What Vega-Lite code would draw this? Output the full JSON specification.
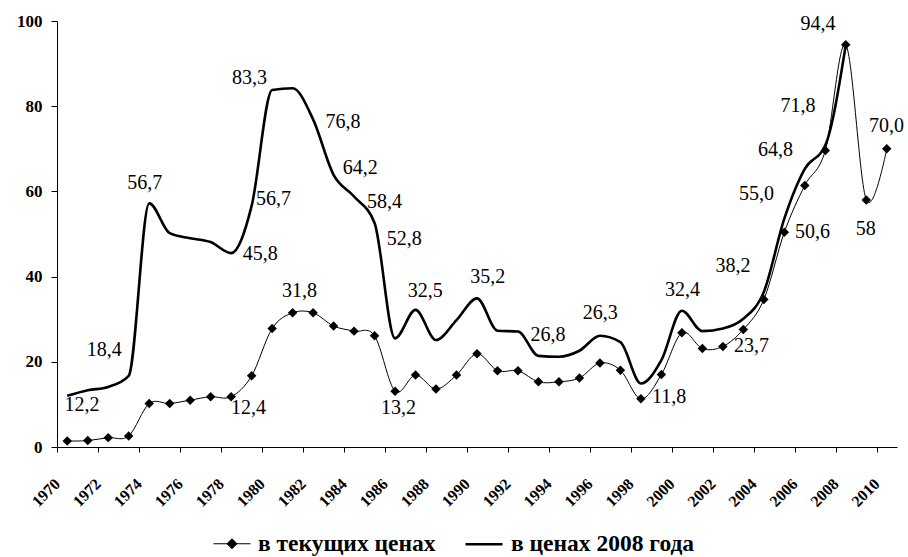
{
  "$schema": "https://vega.github.io/schema/vega-lite/v6.json",
  "width": 840,
  "height": 426,
  "autosize": "none",
  "padding": {"left": 57, "top": 21, "right": 11, "bottom": 110},
  "background": "white",
  "config": {"view": {"stroke": null}, "font": "Liberation Serif"},
  "datasets": {
    "prices": [
      {"year": 1970, "series": "в текущих ценах", "value": 1.4},
      {"year": 1971, "series": "в текущих ценах", "value": 1.5},
      {"year": 1972, "series": "в текущих ценах", "value": 2.2},
      {"year": 1973, "series": "в текущих ценах", "value": 2.6},
      {"year": 1974, "series": "в текущих ценах", "value": 10.2},
      {"year": 1975, "series": "в текущих ценах", "value": 10.2},
      {"year": 1976, "series": "в текущих ценах", "value": 11.0},
      {"year": 1977, "series": "в текущих ценах", "value": 11.8},
      {"year": 1978, "series": "в текущих ценах", "value": 11.8},
      {"year": 1979, "series": "в текущих ценах", "value": 16.7},
      {"year": 1980, "series": "в текущих ценах", "value": 27.8},
      {"year": 1981, "series": "в текущих ценах", "value": 31.5},
      {"year": 1982, "series": "в текущих ценах", "value": 31.5},
      {"year": 1983, "series": "в текущих ценах", "value": 28.4},
      {"year": 1984, "series": "в текущих ценах", "value": 27.2},
      {"year": 1985, "series": "в текущих ценах", "value": 26.1},
      {"year": 1986, "series": "в текущих ценах", "value": 13.1},
      {"year": 1987, "series": "в текущих ценах", "value": 16.9},
      {"year": 1988, "series": "в текущих ценах", "value": 13.6},
      {"year": 1989, "series": "в текущих ценах", "value": 16.9},
      {"year": 1990, "series": "в текущих ценах", "value": 21.9},
      {"year": 1991, "series": "в текущих ценах", "value": 17.9},
      {"year": 1992, "series": "в текущих ценах", "value": 17.9},
      {"year": 1993, "series": "в текущих ценах", "value": 15.3},
      {"year": 1994, "series": "в текущих ценах", "value": 15.3},
      {"year": 1995, "series": "в текущих ценах", "value": 16.2},
      {"year": 1996, "series": "в текущих ценах", "value": 19.7},
      {"year": 1997, "series": "в текущих ценах", "value": 18.0},
      {"year": 1998, "series": "в текущих ценах", "value": 11.3},
      {"year": 1999, "series": "в текущих ценах", "value": 17.0},
      {"year": 2000, "series": "в текущих ценах", "value": 26.8},
      {"year": 2001, "series": "в текущих ценах", "value": 23.1},
      {"year": 2002, "series": "в текущих ценах", "value": 23.6},
      {"year": 2003, "series": "в текущих ценах", "value": 27.6},
      {"year": 2004, "series": "в текущих ценах", "value": 34.6},
      {"year": 2005, "series": "в текущих ценах", "value": 50.4},
      {"year": 2006, "series": "в текущих ценах", "value": 61.4},
      {"year": 2007, "series": "в текущих ценах", "value": 69.6},
      {"year": 2008, "series": "в текущих ценах", "value": 94.4},
      {"year": 2009, "series": "в текущих ценах", "value": 58.0},
      {"year": 2010, "series": "в текущих ценах", "value": 70.0},
      {"year": 1970, "series": "в ценах 2008 года", "value": 12.0},
      {"year": 1971, "series": "в ценах 2008 года", "value": 13.3},
      {"year": 1972, "series": "в ценах 2008 года", "value": 14.1},
      {"year": 1973, "series": "в ценах 2008 года", "value": 16.7},
      {"year": 1974, "series": "в ценах 2008 года", "value": 57.2},
      {"year": 1975, "series": "в ценах 2008 года", "value": 50.2},
      {"year": 1976, "series": "в ценах 2008 года", "value": 49.0},
      {"year": 1977, "series": "в ценах 2008 года", "value": 48.1},
      {"year": 1978, "series": "в ценах 2008 года", "value": 45.5},
      {"year": 1979, "series": "в ценах 2008 года", "value": 56.6},
      {"year": 1980, "series": "в ценах 2008 года", "value": 83.8},
      {"year": 1981, "series": "в ценах 2008 года", "value": 84.2},
      {"year": 1982, "series": "в ценах 2008 года", "value": 76.9},
      {"year": 1983, "series": "в ценах 2008 года", "value": 63.9},
      {"year": 1984, "series": "в ценах 2008 года", "value": 58.8},
      {"year": 1985, "series": "в ценах 2008 года", "value": 52.6},
      {"year": 1986, "series": "в ценах 2008 года", "value": 25.5},
      {"year": 1987, "series": "в ценах 2008 года", "value": 32.2},
      {"year": 1988, "series": "в ценах 2008 года", "value": 25.1},
      {"year": 1989, "series": "в ценах 2008 года", "value": 29.8},
      {"year": 1990, "series": "в ценах 2008 года", "value": 34.9},
      {"year": 1991, "series": "в ценах 2008 года", "value": 27.3},
      {"year": 1992, "series": "в ценах 2008 года", "value": 27.1},
      {"year": 1993, "series": "в ценах 2008 года", "value": 21.4},
      {"year": 1994, "series": "в ценах 2008 года", "value": 21.2},
      {"year": 1995, "series": "в ценах 2008 года", "value": 22.6},
      {"year": 1996, "series": "в ценах 2008 года", "value": 26.1},
      {"year": 1997, "series": "в ценах 2008 года", "value": 24.6},
      {"year": 1998, "series": "в ценах 2008 года", "value": 14.9},
      {"year": 1999, "series": "в ценах 2008 года", "value": 20.4},
      {"year": 2000, "series": "в ценах 2008 года", "value": 32.0},
      {"year": 2001, "series": "в ценах 2008 года", "value": 27.2},
      {"year": 2002, "series": "в ценах 2008 года", "value": 27.8},
      {"year": 2003, "series": "в ценах 2008 года", "value": 30.1},
      {"year": 2004, "series": "в ценах 2008 года", "value": 36.4},
      {"year": 2005, "series": "в ценах 2008 года", "value": 53.6},
      {"year": 2006, "series": "в ценах 2008 года", "value": 65.3},
      {"year": 2007, "series": "в ценах 2008 года", "value": 70.8},
      {"year": 2008, "series": "в ценах 2008 года", "value": 94.4}
    ],
    "labels": [
      {"year": 1970.72, "value": 9.96, "label": "12,2"},
      {"year": 1971.81, "value": 22.7, "label": "18,4"},
      {"year": 1973.78, "value": 62.0, "label": "56,7"},
      {"year": 1978.90, "value": 86.7, "label": "83,3"},
      {"year": 1983.46, "value": 76.2, "label": "76,8"},
      {"year": 1984.30, "value": 65.4, "label": "64,2"},
      {"year": 1980.07, "value": 58.3, "label": "56,7"},
      {"year": 1985.49, "value": 57.6, "label": "58,4"},
      {"year": 1979.42, "value": 45.4, "label": "45,8"},
      {"year": 1986.45, "value": 48.9, "label": "52,8"},
      {"year": 1981.34, "value": 36.6, "label": "31,8"},
      {"year": 1987.47, "value": 36.6, "label": "32,5"},
      {"year": 1978.85, "value": 9.25, "label": "12,4"},
      {"year": 1986.17, "value": 9.25, "label": "13,2"},
      {"year": 1990.52, "value": 40.0, "label": "35,2"},
      {"year": 1993.47, "value": 26.3, "label": "26,8"},
      {"year": 1996.02, "value": 31.4, "label": "26,3"},
      {"year": 2000.03, "value": 36.95, "label": "32,4"},
      {"year": 1999.38, "value": 11.8, "label": "11,8"},
      {"year": 2002.49, "value": 42.6, "label": "38,2"},
      {"year": 2003.40, "value": 23.8, "label": "23,7"},
      {"year": 2003.64, "value": 59.5, "label": "55,0"},
      {"year": 2006.38, "value": 50.5, "label": "50,6"},
      {"year": 2004.57, "value": 69.8, "label": "64,8"},
      {"year": 2005.67, "value": 80.0, "label": "71,8"},
      {"year": 2006.64, "value": 99.3, "label": "94,4"},
      {"year": 2008.97, "value": 51.1, "label": "58"},
      {"year": 2009.99, "value": 75.3, "label": "70,0"}
    ]
  },
  "layer": [
    {
      "data": {"name": "prices"},
      "transform": [{"filter": "datum.series === 'в ценах 2008 года'"}],
      "mark": {"type": "line", "interpolate": "monotone", "color": "black"},
      "encoding": {
        "x": {
          "field": "year",
          "type": "quantitative",
          "scale": {"domain": [1969.5, 2010.5], "nice": false, "zero": false},
          "axis": {
            "values": [1969.5, 1970.5, 1971.5, 1972.5, 1973.5, 1974.5, 1975.5, 1976.5, 1977.5, 1978.5, 1979.5, 1980.5, 1981.5, 1982.5, 1983.5, 1984.5, 1985.5, 1986.5, 1987.5, 1988.5, 1989.5, 1990.5, 1991.5, 1992.5, 1993.5, 1994.5, 1995.5, 1996.5, 1997.5, 1998.5, 1999.5, 2000.5, 2001.5, 2002.5, 2003.5, 2004.5, 2005.5, 2006.5, 2007.5, 2008.5, 2009.5, 2010.5],
            "labelExpr": "(datum.value + 0.5) % 2 === 0 ? format(datum.value + 0.5, 'd') : ''",
            "labelAngle": -45,
            "labelAlign": "right",
            "labelBaseline": "middle",
            "labelPadding": 29,
            "labelFont": "Liberation Serif",
            "labelFontWeight": "bold",
            "labelFontSize": 16,
            "labelColor": "black",
            "labelOverlap": false,
            "labelFlush": false,
            "labelBound": false,
            "tickSize": 5,
            "tickColor": "black",
            "domainColor": "black",
            "grid": false,
            "title": null
          }
        },
        "y": {
          "field": "value",
          "type": "quantitative",
          "scale": {"domain": [0, 100], "nice": false},
          "axis": {
            "values": [0, 20, 40, 60, 80, 100],
            "format": "d",
            "tickSize": 6,
            "labelPadding": 9,
            "labelFont": "Liberation Serif",
            "labelFontWeight": "bold",
            "labelFontSize": 17,
            "labelColor": "black",
            "tickColor": "black",
            "domainColor": "black",
            "grid": false,
            "title": null
          }
        },
        "strokeWidth": {
          "field": "series",
          "type": "nominal",
          "scale": {"domain": ["в текущих ценах", "в ценах 2008 года"], "range": [1, 2.6]},
          "legend": {
            "orient": "none",
            "legendX": 156,
            "legendY": 503,
            "direction": "horizontal",
            "title": null,
            "labelFont": "Liberation Serif",
            "labelFontSize": 23.5,
            "labelFontWeight": "bold",
            "labelColor": "black",
            "labelOffset": 7,
            "labelLimit": 400,
            "columnPadding": 24,
            "symbolType": "stroke",
            "symbolSize": 1369,
            "symbolStrokeColor": "black",
            "encode": {
              "symbols": {
                "update": {
                  "shape": [
                    {"test": "datum.value === 'в текущих ценах'", "value": "M-1,0L1,0M0,-0.27L0.27,0L0,0.27L-0.27,0Z"},
                    {"value": "stroke"}
                  ],
                  "fill": {"value": "black"},
                  "stroke": {"value": "black"}
                }
              }
            }
          }
        }
      }
    },
    {
      "data": {"name": "prices"},
      "transform": [{"filter": "datum.series === 'в текущих ценах'"}],
      "mark": {"type": "line", "interpolate": "cardinal", "color": "black"},
      "encoding": {
        "x": {"field": "year", "type": "quantitative"},
        "y": {"field": "value", "type": "quantitative"},
        "strokeWidth": {"field": "series", "type": "nominal"}
      }
    },
    {
      "data": {"name": "prices"},
      "transform": [{"filter": "datum.series === 'в текущих ценах'"}],
      "mark": {"type": "point", "shape": "diamond", "filled": true, "color": "black", "size": 90, "opacity": 1},
      "encoding": {
        "x": {"field": "year", "type": "quantitative"},
        "y": {"field": "value", "type": "quantitative"}
      }
    },
    {
      "data": {"name": "labels"},
      "mark": {"type": "text", "font": "Liberation Serif", "fontSize": 20, "align": "center", "baseline": "middle", "color": "black"},
      "encoding": {
        "x": {"field": "year", "type": "quantitative"},
        "y": {"field": "value", "type": "quantitative"},
        "text": {"field": "label"}
      }
    }
  ]
}
